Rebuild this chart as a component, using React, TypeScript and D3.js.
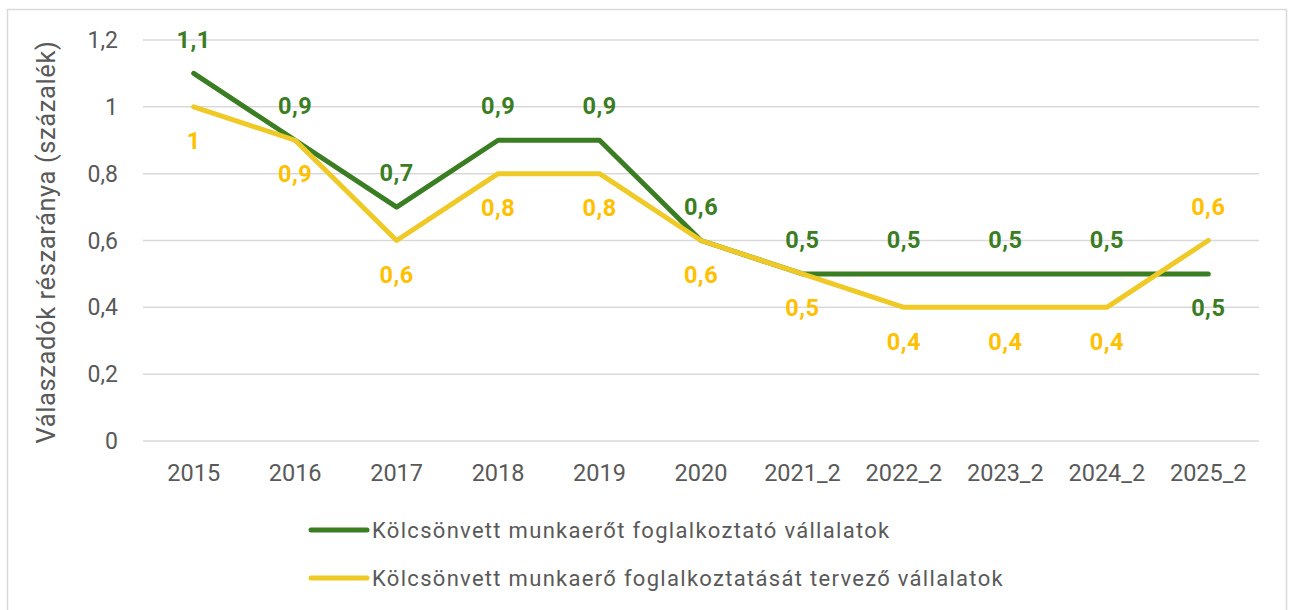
import React from "react";
import * as d3 from "d3";

const categories = ["2015", "2016", "2017", "2018", "2019", "2020", "2021_2", "2022_2", "2023_2", "2024_2", "2025_2"];
const seriesGreen = [1.1, 0.9, 0.7, 0.9, 0.9, 0.6, 0.5, 0.5, 0.5, 0.5, 0.5];
const seriesYellow = [1, 0.9, 0.6, 0.8, 0.8, 0.6, 0.5, 0.4, 0.4, 0.4, 0.6];
const greenLabelPos = ["a", "a", "a", "a", "a", "a", "a", "a", "a", "a", "b"];
const yellowLabelPos = ["b", "b", "b", "b", "b", "b", "b", "b", "b", "b", "a"];
const yTicks = [0, 0.2, 0.4, 0.6, 0.8, 1, 1.2];
const seriesNames = [
  "Kölcsönvett munkaerőt foglalkoztató vállalatok",
  "Kölcsönvett munkaerő foglalkoztatását tervező vállalatok",
];

const GREEN = "#3a7d22";
const YELLOW_LINE = "#efca26";
const YELLOW_LABEL = "#ffc000";
const GRAY = "#595959";
const FONT = "Roboto, 'Noto Sans', sans-serif";

const fmt = (v: number) => String(v).replace(".", ",");

export default function App() {
  const W = 1290, H = 610;
  const x = d3.scaleBand<string>().domain(categories).range([143, 1259]);
  const y = d3.scaleLinear().domain([0, 1.2]).range([441, 40]);
  const cx = (c: string) => (x(c) as number) + x.bandwidth() / 2;
  const line = d3.line<number>().x((_, i) => cx(categories[i])).y((d) => y(d));

  const series = [
    { vals: seriesGreen, stroke: GREEN, labelColor: GREEN, pos: greenLabelPos },
    { vals: seriesYellow, stroke: YELLOW_LINE, labelColor: YELLOW_LABEL, pos: yellowLabelPos },
  ];

  return (
    <svg width={W} height={H} style={{ position: "absolute", left: 0, top: 0 }} fontFamily={FONT}>
      <rect x={0} y={0} width={W} height={H} fill="#fff" />
      <rect x={7.5} y={9.5} width={1279} height={620} fill="#fff" stroke="#d9d9d9" strokeWidth={1.5} />
      {yTicks.map((t) => (
        <g key={t}>
          <line x1={143} x2={1259} y1={y(t)} y2={y(t)} stroke="#d9d9d9" strokeWidth={1.5} />
          <text x={118} y={y(t)} dy="0.35em" textAnchor="end" fontSize={23} fill={GRAY}>
            {fmt(t)}
          </text>
        </g>
      ))}
      {categories.map((c) => (
        <text key={c} x={cx(c)} y={473} dy="0.35em" textAnchor="middle" fontSize={23.5} fill={GRAY}>
          {c}
        </text>
      ))}
      <text
        transform={`translate(46,242) rotate(-90)`}
        textAnchor="middle"
        dy="0.35em"
        fontSize={25.5}
        letterSpacing={0.6}
        fill={GRAY}
      >
        Válaszadók részaránya (százalék)
      </text>
      {series.map((s, si) => (
        <path
          key={si}
          d={line(s.vals) || ""}
          fill="none"
          stroke={s.stroke}
          strokeWidth={5}
          strokeLinejoin="round"
          strokeLinecap="round"
        />
      ))}
      {series.map((s, si) =>
        s.vals.map((v, i) => (
          <text
            key={`${si}-${i}`}
            x={cx(categories[i])}
            y={y(v) + (s.pos[i] === "a" ? -34 : 34)}
            dy="0.35em"
            textAnchor="middle"
            fontSize={23.5}
            letterSpacing={0.5}
            fontWeight="bold"
            fill={s.labelColor}
          >
            {fmt(v)}
          </text>
        ))
      )}
      {seriesNames.map((n, i) => (
        <g key={n} transform={`translate(0,${530 + i * 48})`}>
          <line x1={311} x2={367} y1={0} y2={0} stroke={i === 0 ? GREEN : YELLOW_LINE} strokeWidth={5} strokeLinecap="round" />
          <text x={372} y={0} dy="0.35em" fontSize={22} letterSpacing={1.3} fill={GRAY}>
            {n}
          </text>
        </g>
      ))}
    </svg>
  );
}
